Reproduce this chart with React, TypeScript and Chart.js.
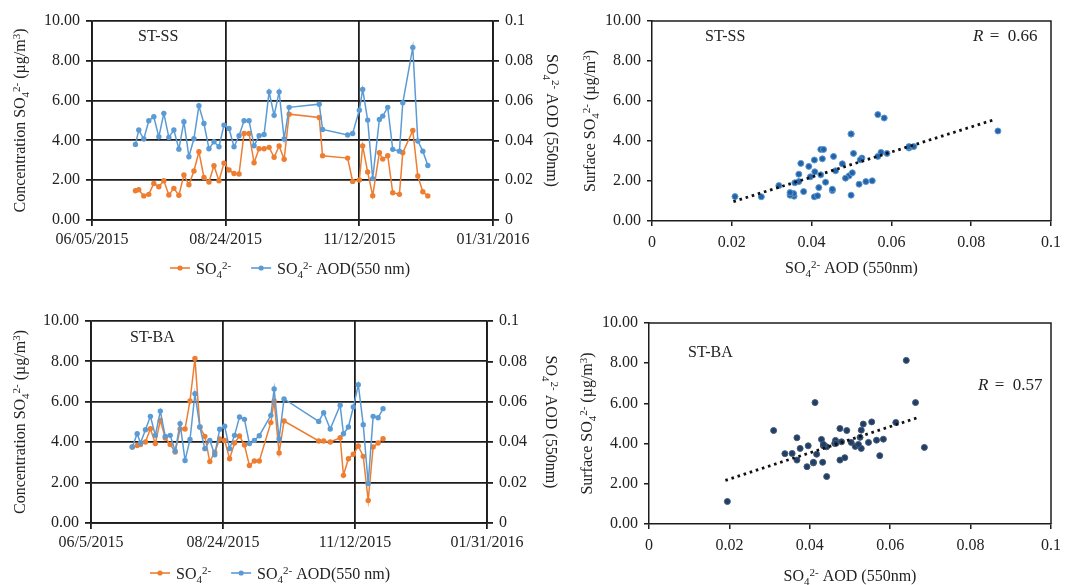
import React, { useEffect, useRef } from "react";
import { Chart, registerables } from "chart.js";

Chart.register(...registerables);

const FONT_FAMILY = "'Liberation Serif', 'Times New Roman', 'DejaVu Serif', serif";
const TEXT_COLOR = "#222222";
const GRID_COLOR = "#1c1c1c";
const ORANGE = "#ED7D31";
const BLUE = "#5B9BD5";

// ---------------- data ----------------
const START_DATE = "2015-06-05";
const X_TICK_DAYS = [0, 80, 160, 240];
const X_TICK_LABELS_SS = ["06/05/2015", "08/24/2015", "11/12/2015", "01/31/2016"];
const X_TICK_LABELS_BA = ["06/5/2015", "08/24/2015", "11/12/2015", "01/31/2016"];

const ssDates = [
  "2015-07-01", "2015-07-03", "2015-07-06", "2015-07-09", "2015-07-12", "2015-07-15", "2015-07-18",
  "2015-07-21", "2015-07-24", "2015-07-27", "2015-07-30", "2015-08-02", "2015-08-05", "2015-08-08",
  "2015-08-11", "2015-08-14", "2015-08-17", "2015-08-20", "2015-08-23", "2015-08-26", "2015-08-29",
  "2015-09-01", "2015-09-04", "2015-09-07", "2015-09-10", "2015-09-13", "2015-09-16", "2015-09-19",
  "2015-09-22", "2015-09-25", "2015-09-28", "2015-10-01", "2015-10-19", "2015-10-21", "2015-11-05",
  "2015-11-08", "2015-11-12", "2015-11-14", "2015-11-17", "2015-11-20", "2015-11-24", "2015-11-26",
  "2015-11-29", "2015-12-02", "2015-12-06", "2015-12-08", "2015-12-14", "2015-12-17", "2015-12-20",
  "2015-12-23",
];
const ssSO4 = [
  1.47, 1.52, 1.21, 1.29, 1.84, 1.67, 1.97, 1.26, 1.59, 1.24, 2.26, 1.77, 2.46, 3.43, 2.14, 1.91, 2.73,
  1.97, 2.86, 2.51, 2.34, 2.31, 4.35, 4.35, 2.88, 3.58, 3.58, 3.65, 3.15, 3.72, 3.05, 5.32, 5.15, 3.23,
  3.11, 1.94, 2.01, 3.72, 2.41, 1.22, 3.38, 3.06, 3.23, 1.37, 1.29, 3.38, 4.5, 2.21, 1.42, 1.21,
];
const ssAOD = [
  0.038, 0.0452, 0.0407, 0.0499, 0.0519, 0.0418, 0.0536, 0.0415, 0.0452, 0.0356, 0.0494, 0.0318, 0.0408,
  0.0574, 0.0485, 0.0358, 0.0393, 0.0368, 0.0477, 0.046, 0.0368, 0.0423, 0.0499, 0.0499, 0.0373, 0.0423,
  0.043, 0.0644, 0.0526, 0.0644, 0.0407, 0.0566, 0.0582, 0.0455, 0.0427, 0.0435, 0.0552, 0.0656, 0.0502,
  0.0208, 0.0505, 0.0522, 0.0566, 0.0355, 0.0346, 0.0589, 0.0867, 0.0397, 0.0346, 0.0274,
];

const baDates = [
  "2015-06-30", "2015-07-03", "2015-07-05", "2015-07-08", "2015-07-11", "2015-07-14", "2015-07-17",
  "2015-07-20", "2015-07-23", "2015-07-26", "2015-07-29", "2015-08-01", "2015-08-04", "2015-08-07",
  "2015-08-10", "2015-08-13", "2015-08-16", "2015-08-19", "2015-08-22", "2015-08-25", "2015-08-28",
  "2015-08-31", "2015-09-03", "2015-09-06", "2015-09-09", "2015-09-12", "2015-09-15", "2015-09-22",
  "2015-09-24", "2015-09-27", "2015-09-30", "2015-10-21", "2015-10-24", "2015-10-28", "2015-11-03",
  "2015-11-05", "2015-11-08", "2015-11-11", "2015-11-14", "2015-11-17", "2015-11-20", "2015-11-23",
  "2015-11-26", "2015-11-29",
];
const baSO4 = [
  3.76, 3.84, 3.89, 4.01, 4.67, 3.93, 5.08, 4.21, 3.89, 3.51, 4.65, 4.65, 6.04, 8.14, 4.75, 4.29, 3.04,
  3.5, 4.16, 4.09, 3.18, 3.96, 4.31, 3.86, 2.85, 3.07, 3.07, 4.97, 6.04, 3.47, 5.05, 4.06, 4.06, 4.01,
  4.22, 2.36, 3.18, 3.4, 3.81, 3.3, 1.12, 3.76, 3.96, 4.17,
];
const baAOD = [
  0.0376, 0.0442, 0.0396, 0.0462, 0.0528, 0.0434, 0.0554, 0.0429, 0.0434, 0.0356, 0.0492, 0.031, 0.0413,
  0.064, 0.0475, 0.0368, 0.0409, 0.0338, 0.0464, 0.0479, 0.0368, 0.0434, 0.0525, 0.0513, 0.0393, 0.0409,
  0.0432, 0.0533, 0.0663, 0.0417, 0.0614, 0.0503, 0.0546, 0.0465, 0.0583, 0.0442, 0.0475, 0.0574, 0.0685,
  0.0487, 0.0195, 0.0528, 0.0521, 0.0566,
];

// linear trend lines (end points)
const ssTrendAOD = [0.0204, 0.086];
const ssTrendSO4 = [0.97, 5.08];
const baTrendAOD = [0.019, 0.0668];
const baTrendSO4 = [2.17, 5.29];
const ssR = "0.66";
const baR = "0.57";

// ---------------- rich text (0 normal, -1 subscript, 1 superscript) ----------------
type Seg = [string, number];
const SEG_SO4: Seg[] = [["SO", 0], ["4", -1], ["2-", 1]];
const SEG_AOD_LEGEND: Seg[] = [...SEG_SO4, [" AOD(550 nm)", 0]];
const SEG_AOD_AXIS: Seg[] = [...SEG_SO4, [" AOD (550nm)", 0]];
const SEG_CONC: Seg[] = [["Concentration ", 0], ...SEG_SO4, [" (\u00B5g/m", 0], ["3", 1], [")", 0]];
const SEG_SURF: Seg[] = [["Surface ", 0], ...SEG_SO4, [" (\u00B5g/m", 0], ["3", 1], [")", 0]];

function segFont(size: number, kind: number) {
  return `${kind === 0 ? size : Math.round(size * 0.66)}px ${FONT_FAMILY}`;
}

function richWidth(ctx: CanvasRenderingContext2D, segs: Seg[], size: number) {
  let w = 0;
  for (const [t, k] of segs) {
    ctx.font = segFont(size, k);
    w += ctx.measureText(t).width;
  }
  return w;
}

function drawRich(
  ctx: CanvasRenderingContext2D,
  segs: Seg[],
  x: number,
  y: number,
  rotation: number,
  size: number,
  align: "left" | "center"
) {
  ctx.save();
  ctx.translate(x, y);
  ctx.rotate(rotation);
  ctx.fillStyle = TEXT_COLOR;
  ctx.textAlign = "left";
  ctx.textBaseline = "alphabetic";
  const w = richWidth(ctx, segs, size);
  let cx = align === "center" ? -w / 2 : 0;
  const base = size * 0.34;
  for (const [t, k] of segs) {
    ctx.font = segFont(size, k);
    const dy = k === -1 ? size * 0.2 : k === 1 ? -size * 0.36 : 0;
    ctx.fillText(t, cx, base + dy);
    cx += ctx.measureText(t).width;
  }
  ctx.restore();
  return w;
}

function dayOffset(d: string): number {
  return (Date.parse(d) - Date.parse(START_DATE)) / 86400000;
}

function font(size = 16) {
  return { family: FONT_FAMILY, size, lineHeight: 1.2 } as any;
}

function drawLegend(ctx: CanvasRenderingContext2D, x: number, y: number, items: { color: string; segs: Seg[] }[]) {
  let cx = x;
  for (const it of items) {
    ctx.strokeStyle = it.color;
    ctx.lineWidth = 1.6;
    ctx.beginPath();
    ctx.moveTo(cx, y);
    ctx.lineTo(cx + 20, y);
    ctx.stroke();
    ctx.fillStyle = it.color;
    ctx.beginPath();
    ctx.arc(cx + 10, y, 2.6, 0, Math.PI * 2);
    ctx.fill();
    const w = drawRich(ctx, it.segs, cx + 26, y + 1, 0, 16, "left");
    cx += 26 + w + 20;
  }
}

function drawR(ctx: CanvasRenderingContext2D, x: number, y: number, r: string) {
  ctx.textBaseline = "middle";
  ctx.textAlign = "left";
  ctx.fillStyle = TEXT_COLOR;
  ctx.font = `italic 17px ${FONT_FAMILY}`;
  ctx.fillText("R", x, y);
  const w = ctx.measureText("R").width;
  ctx.font = `17px ${FONT_FAMILY}`;
  ctx.fillText(" =  " + r, x + w + 2, y);
}

type TSLayout = {
  top: number;
  xHeight: number;
  leftWidth: number;
  rightWidth: number;
  legendX: number;
  legendY: number;
  labelX: number;
  labelY: number;
  leftTitleX: number;
  rightTitleX: number;
};

function timeSeriesConfig(
  dates: string[],
  so4: number[],
  aod: number[],
  tickLabels: string[],
  site: string,
  L: TSLayout
): any {
  const so4Pts = dates.map((d, i) => ({ x: dayOffset(d), y: so4[i] }));
  const aodPts = dates.map((d, i) => ({ x: dayOffset(d), y: aod[i] }));
  const overlay = {
    id: "tsOverlay",
    afterDraw(chart: any) {
      const ctx = chart.ctx as CanvasRenderingContext2D;
      const a = chart.chartArea;
      const midY = (a.top + a.bottom) / 2;
      ctx.save();
      ctx.font = `16px ${FONT_FAMILY}`;
      ctx.fillStyle = TEXT_COLOR;
      ctx.textBaseline = "middle";
      ctx.textAlign = "left";
      ctx.fillText(site, L.labelX, L.labelY);
      drawRich(ctx, SEG_CONC, L.leftTitleX, midY, -Math.PI / 2, 16, "center");
      drawRich(ctx, SEG_AOD_AXIS, L.rightTitleX, midY, Math.PI / 2, 16, "center");
      drawLegend(ctx, L.legendX, L.legendY, [
        { color: ORANGE, segs: SEG_SO4 },
        { color: BLUE, segs: SEG_AOD_LEGEND },
      ]);
      ctx.restore();
    },
  };
  return {
    type: "line",
    data: {
      datasets: [
        {
          label: "SO4",
          data: so4Pts,
          yAxisID: "y",
          borderColor: ORANGE,
          backgroundColor: ORANGE,
          borderWidth: 1.5,
          pointRadius: 2.7,
          pointBorderWidth: 0,
          order: 1,
        },
        {
          label: "SO4 AOD(550 nm)",
          data: aodPts,
          yAxisID: "y1",
          borderColor: BLUE,
          backgroundColor: BLUE,
          borderWidth: 1.5,
          pointRadius: 2.7,
          pointBorderWidth: 0,
          order: 0,
        },
      ],
    },
    options: {
      animation: false,
      responsive: false,
      devicePixelRatio: 1,
      parsing: false,
      layout: { padding: { top: L.top, left: 0, right: 0, bottom: 0 } },
      plugins: { legend: { display: false }, tooltip: { enabled: false } },
      scales: {
        x: {
          type: "linear",
          min: X_TICK_DAYS[0],
          max: X_TICK_DAYS[X_TICK_DAYS.length - 1],
          afterBuildTicks: (s: any) => {
            s.ticks = X_TICK_DAYS.map((v) => ({ value: v }));
          },
          ticks: {
            callback: (v: any) => {
              const i = X_TICK_DAYS.indexOf(Number(v));
              return i >= 0 ? tickLabels[i] : "";
            },
            font: font(16),
            color: TEXT_COLOR,
            padding: 4,
            maxRotation: 0,
            autoSkip: false,
          },
          grid: { color: GRID_COLOR, lineWidth: 1.8, tickLength: 6 },
          border: { color: GRID_COLOR, width: 1.8 },
          afterFit: (s: any) => {
            s.height = L.xHeight;
          },
        },
        y: {
          position: "left",
          min: 0,
          max: 10,
          ticks: {
            stepSize: 2,
            callback: (v: any) => Number(v).toFixed(2),
            font: font(16),
            color: TEXT_COLOR,
            padding: 6,
          },
          grid: { color: GRID_COLOR, lineWidth: 1.8, tickLength: 6 },
          border: { color: GRID_COLOR, width: 1.8 },
          afterFit: (s: any) => {
            s.width = L.leftWidth;
          },
        },
        y1: {
          position: "right",
          min: 0,
          max: 0.1,
          ticks: {
            stepSize: 0.02,
            callback: (v: any) => String(Number(Number(v).toFixed(2))),
            font: font(16),
            color: TEXT_COLOR,
            padding: 6,
          },
          grid: { drawOnChartArea: false, color: GRID_COLOR, lineWidth: 1.8, tickLength: 6 },
          border: { color: GRID_COLOR, width: 1.8 },
          afterFit: (s: any) => {
            s.width = L.rightWidth;
          },
        },
      },
    },
    plugins: [overlay],
  };
}

type SCLayout = {
  top: number;
  xHeight: number;
  leftWidth: number;
  rightPad: number;
  yTitleX: number;
  xTitleY: number;
  labelX: number;
  labelY: number;
  rX: number;
  rY: number;
  dot: string;
  dotBorder: string;
};

function scatterConfig(
  aod: number[],
  so4: number[],
  trendX: number[],
  trendY: number[],
  site: string,
  r: string,
  L: SCLayout
): any {
  const pts = aod.map((a, i) => ({ x: a, y: so4[i] }));
  const trend = trendX.map((x, i) => ({ x, y: trendY[i] }));
  const overlay = {
    id: "scOverlay",
    afterDraw(chart: any) {
      const ctx = chart.ctx as CanvasRenderingContext2D;
      const a = chart.chartArea;
      ctx.save();
      ctx.strokeStyle = GRID_COLOR;
      ctx.lineWidth = 1.5;
      ctx.beginPath();
      ctx.moveTo(a.left, a.top);
      ctx.lineTo(a.right, a.top);
      ctx.lineTo(a.right, a.bottom);
      ctx.stroke();
      ctx.font = `16px ${FONT_FAMILY}`;
      ctx.fillStyle = TEXT_COLOR;
      ctx.textBaseline = "middle";
      ctx.textAlign = "left";
      ctx.fillText(site, L.labelX, L.labelY);
      drawR(ctx, L.rX, L.rY, r);
      drawRich(ctx, SEG_SURF, L.yTitleX, (a.top + a.bottom) / 2, -Math.PI / 2, 16, "center");
      drawRich(ctx, SEG_AOD_AXIS, (a.left + a.right) / 2, L.xTitleY, 0, 16, "center");
      ctx.restore();
    },
  };
  return {
    type: "scatter",
    data: {
      datasets: [
        {
          type: "line",
          data: trend,
          borderColor: "#111111",
          borderWidth: 2.8,
          borderDash: [2.6, 3.8],
          pointRadius: 0,
          fill: false,
        },
        {
          data: pts,
          backgroundColor: L.dot,
          borderColor: L.dotBorder,
          borderWidth: 1,
          pointRadius: 3,
        },
      ],
    },
    options: {
      animation: false,
      responsive: false,
      devicePixelRatio: 1,
      layout: { padding: { top: L.top, left: 0, right: L.rightPad, bottom: 0 } },
      plugins: { legend: { display: false }, tooltip: { enabled: false } },
      scales: {
        x: {
          type: "linear",
          min: 0,
          max: 0.1,
          ticks: {
            stepSize: 0.02,
            callback: (v: any) => String(Number(Number(v).toFixed(2))),
            font: font(16),
            color: TEXT_COLOR,
            padding: 7,
            maxRotation: 0,
            autoSkip: false,
          },
          grid: { drawOnChartArea: false, color: GRID_COLOR, lineWidth: 1.5, tickLength: 5 },
          border: { color: GRID_COLOR, width: 1.5 },
          afterFit: (s: any) => {
            s.height = L.xHeight;
          },
        },
        y: {
          type: "linear",
          min: 0,
          max: 10,
          ticks: {
            stepSize: 2,
            callback: (v: any) => Number(v).toFixed(2),
            font: font(16),
            color: TEXT_COLOR,
            padding: 6,
          },
          grid: { drawOnChartArea: false, color: GRID_COLOR, lineWidth: 1.5, tickLength: 5 },
          border: { color: GRID_COLOR, width: 1.5 },
          afterFit: (s: any) => {
            s.width = L.leftWidth;
          },
        },
      },
    },
    plugins: [overlay],
  };
}

function ChartPanel(props: { left: number; top: number; width: number; height: number; make: () => any }) {
  const ref = useRef<HTMLCanvasElement | null>(null);
  useEffect(() => {
    if (!ref.current) return;
    const chart = new Chart(ref.current, props.make());
    return () => chart.destroy();
  }, []);
  return (
    <canvas
      ref={ref}
      width={props.width}
      height={props.height}
      style={{
        position: "absolute",
        left: props.left,
        top: props.top,
        width: props.width,
        height: props.height,
        display: "block",
      }}
    />
  );
}

export default function App() {
  return (
    <div
      style={{
        position: "absolute",
        left: 0,
        top: 0,
        width: 1068,
        height: 585,
        background: "#ffffff",
        overflow: "hidden",
      }}
    >
      <ChartPanel
        left={0}
        top={0}
        width={565}
        height={290}
        make={() =>
          timeSeriesConfig(ssDates, ssSO4, ssAOD, X_TICK_LABELS_SS, "ST-SS", {
            top: 21,
            xHeight: 70,
            leftWidth: 92,
            rightWidth: 72,
            legendX: 170,
            legendY: 268,
            labelX: 138,
            labelY: 37,
            leftTitleX: 20,
            rightTitleX: 552,
          })
        }
      />
      <ChartPanel
        left={565}
        top={0}
        width={503}
        height={290}
        make={() =>
          scatterConfig(ssAOD, ssSO4, ssTrendAOD, ssTrendSO4, "ST-SS", ssR, {
            top: 21,
            xHeight: 69,
            leftWidth: 87,
            rightPad: 9,
            yTitleX: 25,
            xTitleY: 268,
            labelX: 140,
            labelY: 37,
            rX: 408,
            rY: 37,
            dot: "#2463a6",
            dotBorder: "#5b97d3",
          })
        }
      />
      <ChartPanel
        left={0}
        top={295}
        width={565}
        height={290}
        make={() =>
          timeSeriesConfig(baDates, baSO4, baAOD, X_TICK_LABELS_BA, "ST-BA", {
            top: 26,
            xHeight: 62,
            leftWidth: 91,
            rightWidth: 78,
            legendX: 150,
            legendY: 278,
            labelX: 130,
            labelY: 43,
            leftTitleX: 20,
            rightTitleX: 551,
          })
        }
      />
      <ChartPanel
        left={565}
        top={295}
        width={503}
        height={290}
        make={() =>
          scatterConfig(baAOD, baSO4, baTrendAOD, baTrendSO4, "ST-BA", baR, {
            top: 28,
            xHeight: 61,
            leftWidth: 84,
            rightPad: 11,
            yTitleX: 22,
            xTitleY: 281,
            labelX: 123,
            labelY: 58,
            rX: 413,
            rY: 91,
            dot: "#1d3f6a",
            dotBorder: "#4a5a70",
          })
        }
      />
    </div>
  );
}
